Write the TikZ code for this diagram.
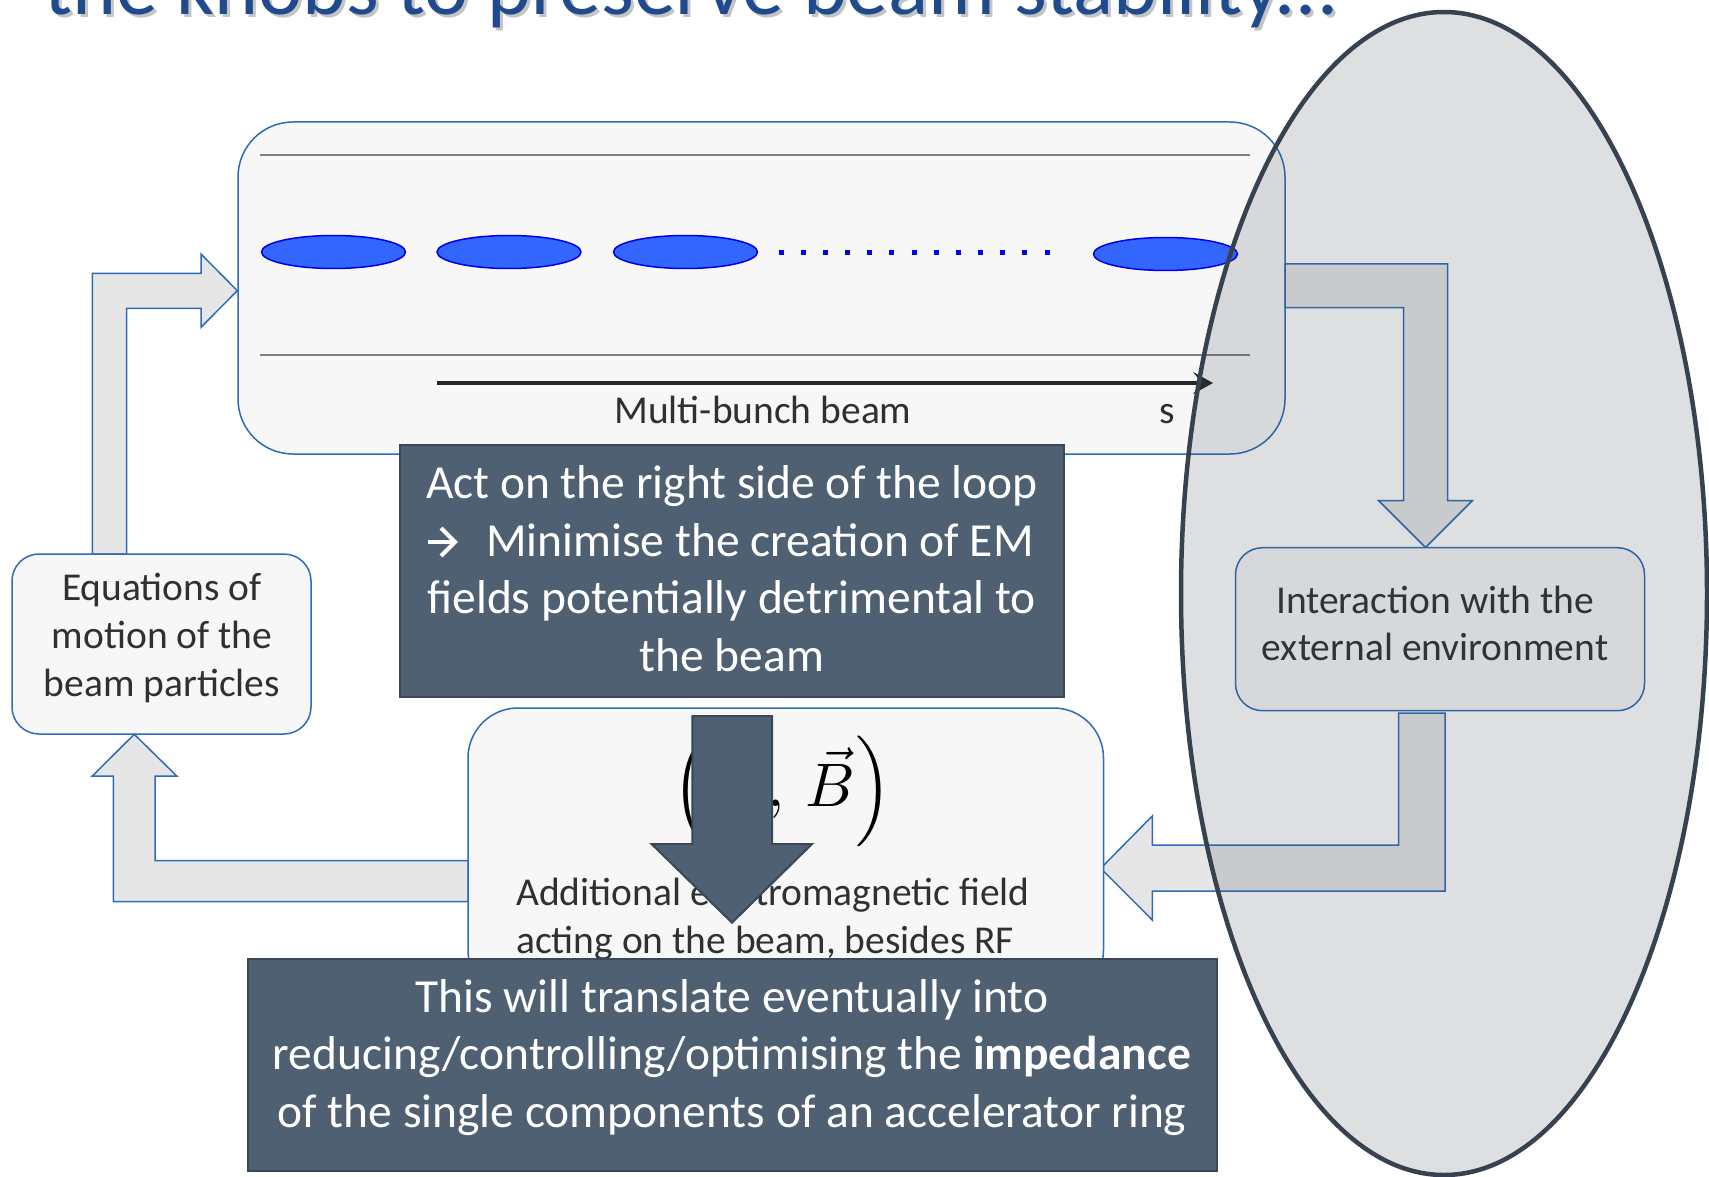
\documentclass[tikz,border=0pt]{standalone}
\usepackage{fontspec}
\setmainfont{Carlito}
\usepackage{amsmath}
\usepackage{graphicx}
\usetikzlibrary{arrows.meta,shapes.geometric}
\definecolor{boxfill}{HTML}{F7F7F7}
\definecolor{boxline}{HTML}{2E6DB4}
\definecolor{arrfill}{HTML}{E6E6E6}
\definecolor{darkfill}{HTML}{4E6072}
\definecolor{darkline}{HTML}{3A4856}
\definecolor{ellline}{HTML}{36424F}
\definecolor{bunchfill}{HTML}{3366FF}
\definecolor{bunchline}{HTML}{0000EE}
\definecolor{txt}{HTML}{303030}
\definecolor{titleblue}{HTML}{1F4A8C}
\definecolor{shadowgray}{HTML}{C4C4C4}
\definecolor{gline}{HTML}{808080}
\begin{document}
\begin{tikzpicture}[x=1pt,y=-1pt,
  lbox/.style={rectangle,draw=boxline,line width=1.5pt,fill=boxfill,inner sep=0pt},
  dbox/.style={rectangle,draw=darkline,line width=2pt,fill=darkfill,inner sep=0pt},
  blockarrow/.style={draw=boxline,line width=1.5pt,fill=arrfill},
  bunch/.style={ellipse,draw=bunchline,line width=1.5pt,fill=bunchfill,minimum width=144pt,minimum height=33pt,inner sep=0pt},
  graylinestyle/.style={draw=gline,line width=2.5pt},
  beamarrow/.style={draw=black!85,line width=3.5pt,-{Stealth[length=20pt,width=22pt,inset=9pt]}},
  textarrow/.style={draw=white,line width=4pt},
  midtext/.style={font=\fontsize{39.5}{47.7}\selectfont,text=txt,inner sep=0pt,anchor=base},
  bigtext/.style={font=\fontsize{47.5}{57.7}\selectfont,text=white,inner sep=0pt,anchor=base}
]
\useasboundingbox (0,0) rectangle (1709,1177);
\fill[white] (0,0) rectangle (1709,1177);

% title
\node[anchor=base west,inner sep=0pt,text=shadowgray] (titleshadow) at (47,18)
  {\resizebox{1294pt}{!}{\fontsize{83}{90}\selectfont the knobs to preserve beam stability...}};
\node[anchor=base west,inner sep=0pt,text=titleblue] (title) at (44,15)
  {\resizebox{1294pt}{!}{\fontsize{83}{90}\selectfont the knobs to preserve beam stability...}};

% beam box
\node[lbox,minimum width=1047pt,minimum height=332pt,rounded corners=55pt] (beambox) at (761.5,288) {};
\draw[graylinestyle] (260,155) -- (1250,155);
\draw[graylinestyle] (260,355) -- (1250,355);
\node[bunch] (b1) at (333.5,252) {};
\node[bunch] (b2) at (509,252) {};
\node[bunch] (b3) at (685.5,252) {};
\node[bunch] (b4) at (1165.5,254) {};
\foreach \i in {0,...,12} \fill[bunchline] ({778.5+22.17*\i},250) rectangle ++(5,5);
\coordinate (sA) at (437,383);
\coordinate (sB) at (1213,383);
\draw[beamarrow] (sA) -- (sB);
\node[midtext] (mbb) at (763,423) {Multi-bunch beam};
\node[midtext] (slabel) at (1167,423) {s};

% block arrow A (equations -> beam box)
\draw[blockarrow] (92.3,554) -- (92.3,273.3) -- (201,273.3) -- (201,254) -- (237.3,290.7)
  -- (201,327.3) -- (201,308.3) -- (126.7,308.3) -- (126.7,554) -- cycle;
% block arrow B (beam box -> interaction)
\draw[blockarrow] (1285,263.9) -- (1447.7,263.9) -- (1447.7,500.6) -- (1472.4,500.6) -- (1425.5,547.5)
  -- (1378.6,500.6) -- (1403.7,500.6) -- (1403.7,307.7) -- (1285,307.7) -- cycle;

% equations box
\node[lbox,minimum width=299pt,minimum height=180pt,rounded corners=27pt] (eqbox) at (161.5,644) {};
\node[midtext] (eq1) at (162,600.7) {Equations of};
\node[midtext] (eq2) at (162,648.4) {motion of the};
\node[midtext] (eq3) at (162,696.1) {beam particles};

% interaction box
\node[lbox,minimum width=409pt,minimum height=163pt,rounded corners=27pt] (intbox) at (1440,629.2) {};
\node[midtext] (in1) at (1435,613) {Interaction with the};
\node[midtext] (in2) at (1435,660.7) {external environment};

% block arrow C (interaction -> field box)
\draw[blockarrow] (1398.5,713) -- (1445,713) -- (1445,891) -- (1152.3,891) -- (1152.3,920) -- (1100.7,868.3)
  -- (1152.3,816) -- (1152.3,845) -- (1398.5,845) -- cycle;
% block arrow D (field box -> equations)
\draw[blockarrow] (468.3,860.7) -- (155,860.7) -- (155,776) -- (176.7,776) -- (134.3,734.3)
  -- (92.3,776) -- (113.3,776) -- (113.3,901.7) -- (468.3,901.7) -- cycle;

% field box
\node[lbox,minimum width=635.5pt,minimum height=292pt,rounded corners=50pt] (fieldbox) at (785.75,854) {};
\node[inner sep=0pt,anchor=base,text=black] (eb) at (782,806.7)
  {\scalebox{6.15}{$\left(\,\vec{E},\,\vec{B}\right)$}};
\node[midtext,anchor=base west] (ad1) at (516,905) {Additional electromagnetic field};
\node[midtext,anchor=base west] (ad2) at (516,953) {acting on the beam, besides RF};

% act box
\node[dbox,minimum width=663.5pt,minimum height=252pt] (actbox) at (731.75,571) {};
\node[bigtext] (ac1) at (731.75,498.3) {Act on the right side of the loop};
\coordinate (arrS) at (428,542);
\coordinate (arrE) at (455,542);
\coordinate (arrU) at (441,528);
\coordinate (arrD) at (441,556);
\draw[textarrow] (arrS) -- (arrE);
\draw[textarrow,line join=miter] (arrU) -- (arrE) -- (arrD);
\node[bigtext,anchor=base west] (ac2) at (486,556) {Minimise the creation of EM};
\node[bigtext] (ac3) at (731.75,613.7) {fields potentially detrimental to};
\node[bigtext] (ac4) at (731.75,671.4) {the beam};

% big dark arrow
\draw[draw=darkline,line width=2pt,fill=darkfill] (692.4,716) -- (772,716) -- (772,844) -- (812,844)
  -- (732,922.7) -- (651.6,844) -- (692.4,844) -- cycle;

% bottom box
\node[dbox,minimum width=969pt,minimum height=212pt] (botbox) at (732,1064.5) {};
\node[bigtext] (bo1) at (732,1012) {This will translate eventually into};
\node[bigtext] (bo2) at (732,1069.5) {reducing/controlling/optimising the \textbf{impedance}};
\node[bigtext] (bo3) at (732,1127) {of the single components of an accelerator ring};

% environment ellipse overlay
\draw[draw=ellline,line width=4.5pt,fill=ellline,fill opacity=0.17] (1444,593.5) ellipse [x radius=263, y radius=581.5];
\end{tikzpicture}
\end{document}
